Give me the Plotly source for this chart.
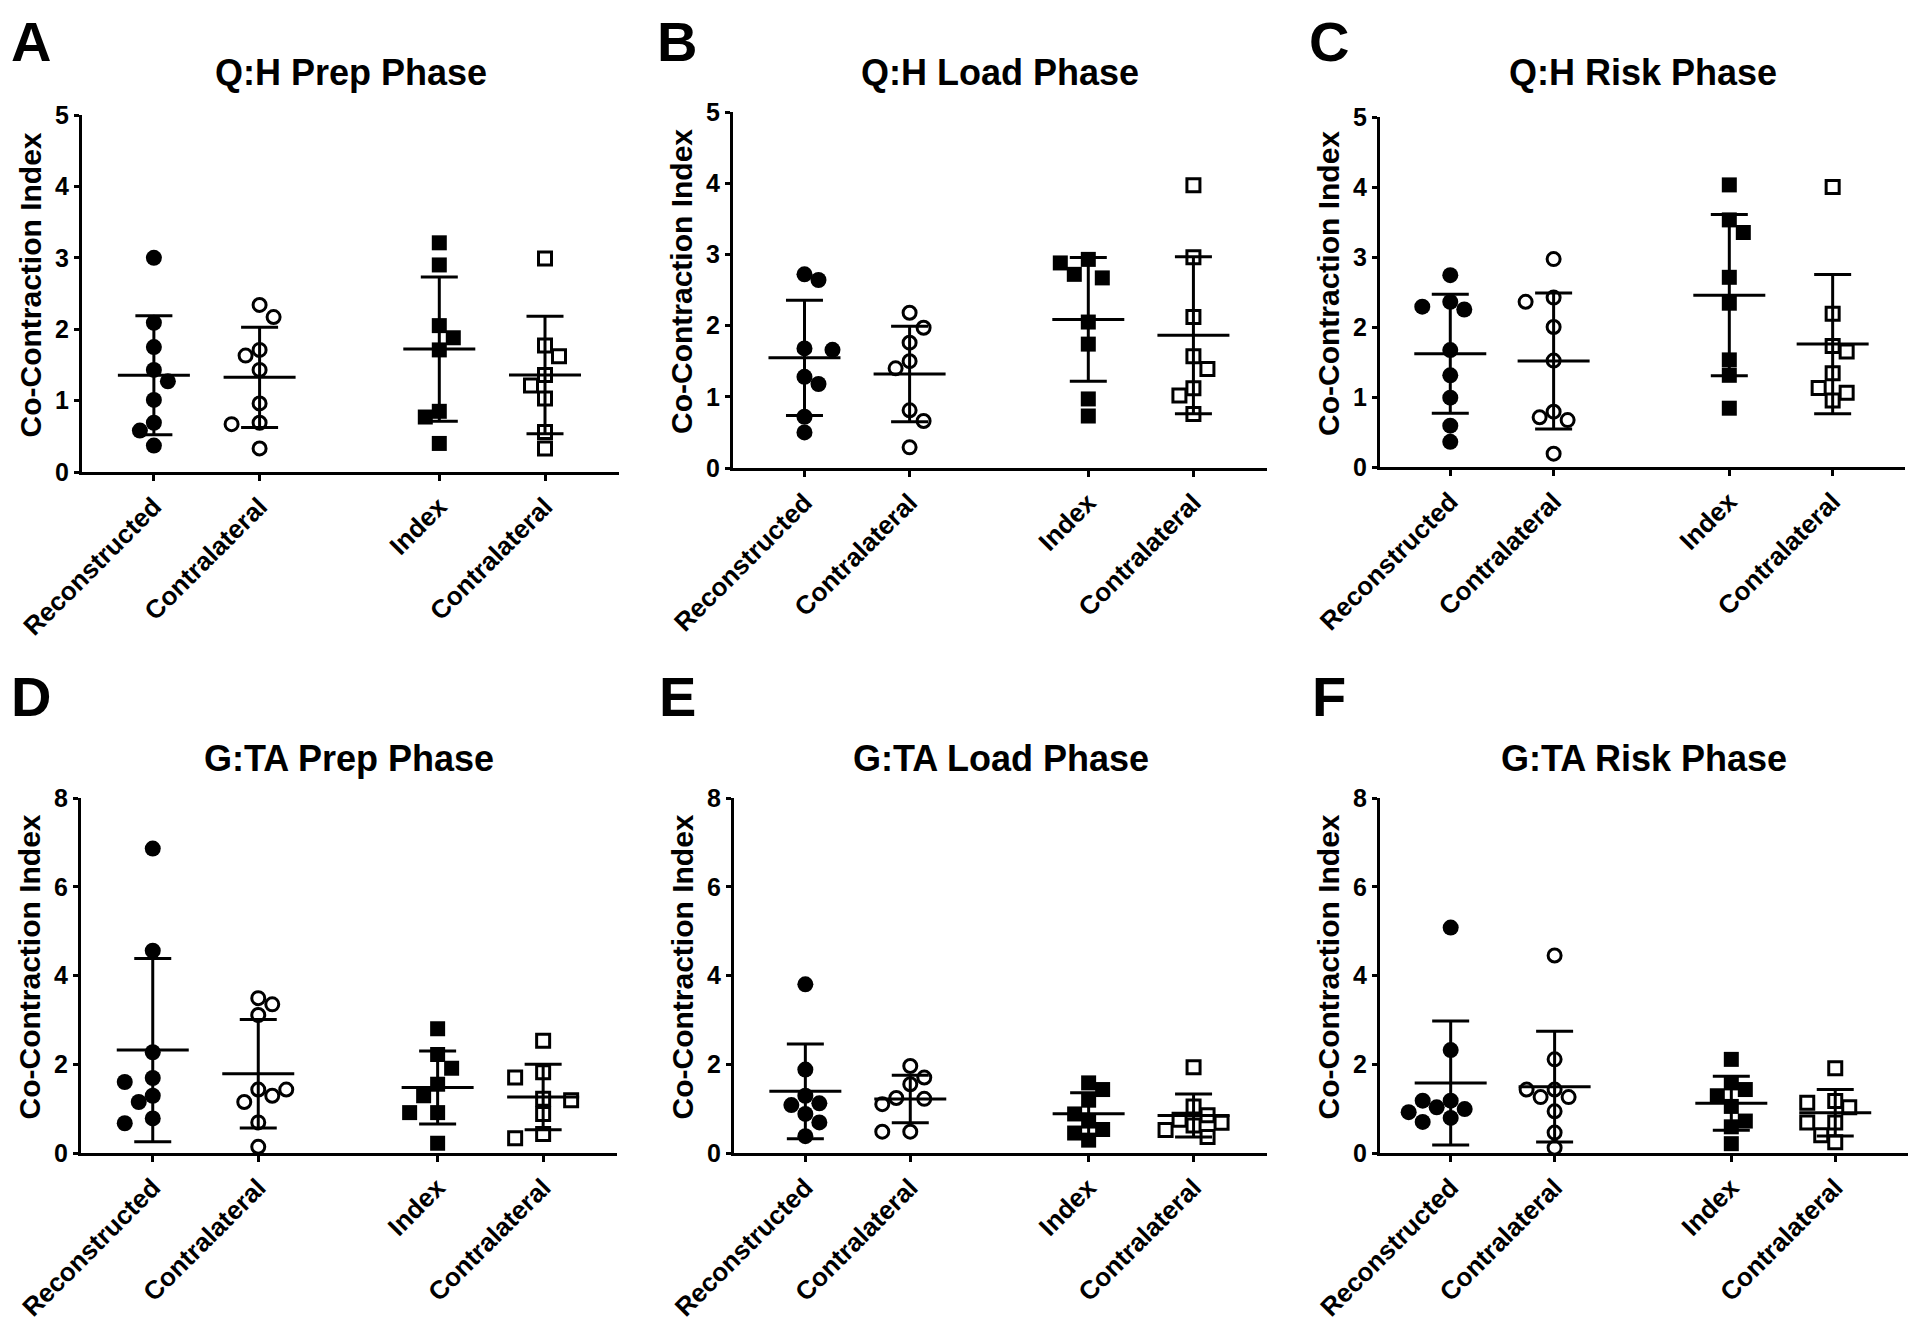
import numpy as np
import plotly.graph_objects as go

# The html body has an 8px default margin; the figure is sized so the page is 1920x1330.
PAGE_W, PAGE_H = 1920, 1330
OFF = 8
W, H = PAGE_W - 2 * OFF, PAGE_H - 2 * OFF
FONT = "Liberation Sans, Arial, sans-serif"

# ---------------- data ----------------
categories = ["Reconstructed", "Contralateral", "Index", "Contralateral"]
panel_letters = ["A", "B", "C", "D", "E", "F"]
panel_titles = ["Q:H Prep Phase", "Q:H Load Phase", "Q:H Risk Phase",
                "G:TA Prep Phase", "G:TA Load Phase", "G:TA Risk Phase"]
y_title = "Co-Contraction Index"
qh_ticks = [0, 1, 2, 3, 4, 5]
gta_ticks = [0, 2, 4, 6, 8]

qh_prep_recon = [3.00, 2.09, 1.75, 1.43, 1.27, 1.01, 0.69, 0.58, 0.37]
qh_prep_contra = [2.34, 2.17, 1.71, 1.63, 1.43, 0.96, 0.69, 0.67, 0.33]
qh_prep_index = [3.21, 2.90, 2.05, 1.88, 1.71, 0.85, 0.77, 0.40]
qh_prep_icontra = [2.99, 1.77, 1.62, 1.36, 1.21, 1.03, 0.56, 0.33]

qh_load_recon = [2.72, 2.64, 1.68, 1.66, 1.28, 1.18, 0.72, 0.50]
qh_load_contra = [2.18, 1.97, 1.76, 1.50, 1.40, 0.81, 0.66, 0.29]
qh_load_index = [2.93, 2.88, 2.72, 2.67, 2.05, 1.74, 0.97, 0.73]
qh_load_icontra = [3.97, 2.96, 2.12, 1.57, 1.39, 1.12, 1.02, 0.76]

qh_risk_recon = [2.74, 2.36, 2.29, 2.25, 1.67, 1.31, 0.99, 0.59, 0.36]
qh_risk_contra = [2.97, 2.42, 2.36, 2.00, 1.52, 0.79, 0.71, 0.67, 0.19]
qh_risk_index = [4.03, 3.53, 3.35, 2.71, 2.34, 1.53, 1.31, 0.84]
qh_risk_icontra = [4.00, 2.19, 1.73, 1.65, 1.34, 1.13, 1.06, 0.95]

gta_prep_recon = [6.86, 4.56, 2.27, 1.69, 1.60, 1.29, 1.15, 0.78, 0.67]
gta_prep_contra = [3.49, 3.35, 3.11, 1.43, 1.43, 1.29, 1.15, 0.69, 0.14]
gta_prep_index = [2.80, 2.22, 1.91, 1.55, 1.29, 0.91, 0.91, 0.22]
gta_prep_icontra = [2.53, 1.82, 1.70, 1.22, 1.19, 0.88, 0.43, 0.33]

gta_load_recon = [3.80, 1.88, 1.29, 1.12, 1.08, 0.88, 0.69, 0.38]
gta_load_contra = [1.96, 1.70, 1.55, 1.24, 1.22, 1.10, 0.48, 0.48]
gta_load_index = [1.58, 1.43, 1.19, 0.88, 0.72, 0.53, 0.45, 0.29]
gta_load_icontra = [1.93, 1.05, 0.85, 0.75, 0.68, 0.62, 0.52, 0.36]

gta_risk_recon = [5.08, 2.32, 1.18, 1.18, 1.03, 0.99, 0.92, 0.79, 0.70]
gta_risk_contra = [4.45, 2.11, 1.43, 1.43, 1.26, 1.26, 0.94, 0.46, 0.12]
gta_risk_index = [2.11, 1.58, 1.43, 1.29, 1.05, 0.72, 0.59, 0.21]
gta_risk_icontra = [1.91, 1.17, 1.13, 1.03, 0.69, 0.69, 0.40, 0.24]

panel_groups = [
    [qh_prep_recon, qh_prep_contra, qh_prep_index, qh_prep_icontra],
    [qh_load_recon, qh_load_contra, qh_load_index, qh_load_icontra],
    [qh_risk_recon, qh_risk_contra, qh_risk_index, qh_risk_icontra],
    [gta_prep_recon, gta_prep_contra, gta_prep_index, gta_prep_icontra],
    [gta_load_recon, gta_load_contra, gta_load_index, gta_load_icontra],
    [gta_risk_recon, gta_risk_contra, gta_risk_index, gta_risk_icontra],
]

# ---------------- layout (page pixels) ----------------
boxes = [  # x0, x1, ytop, ybottom
    (82, 619, 115, 472),
    (733, 1267, 112, 468),
    (1380, 1905, 117, 467),
    (81, 617, 798, 1153),
    (734, 1267, 798, 1153),
    (1380, 1908, 798, 1153),
]
title_y = [72, 72, 72, 758, 758, 758]
letter_x = [31, 677, 1329, 31, 677, 1329]
letter_row2_y = 696
xpos = [0.0, 1.0, 2.7, 3.7]
xrange_ = [-0.68, 4.4]
symbols = ["circle", "circle-open", "square", "square-open"]
msize = [16, 13, 15, 13]


def px2x(px):
    return (px - OFF) / W


def px2y(py):
    return 1 - (py - OFF) / H


def swarm(vals, ppu_y, ppu_x, diam=15.0, step=14.0):
    """Greedy symmetric beeswarm: returns horizontal offsets in x-axis units."""
    n = len(vals)
    order = sorted(range(n), key=lambda i: -vals[i])
    cands = [0.0]
    for j in range(1, 10):
        cands += [j * step, -j * step] if j % 2 else [-j * step, j * step]
    placed = []
    off = [0.0] * n
    flip = 1
    for i in order:
        y = vals[i] * ppu_y
        for c in cands:
            c = c * flip
            if all((c - px) ** 2 + (y - py) ** 2 >= diam ** 2 for px, py in placed):
                off[i] = c
                break
        if off[i] != 0:
            flip = -flip
        placed.append((off[i], y))
    return [o / ppu_x for o in off]


fig = go.Figure()
layout = dict(width=W, height=H, margin=dict(l=0, r=0, t=0, b=0, autoexpand=False),
              paper_bgcolor="white", plot_bgcolor="white", showlegend=False,
              font=dict(family=FONT, color="black"))
annotations = []

for p in range(6):
    x0, x1, yt, yb = boxes[p]
    ax = "" if p == 0 else str(p + 1)
    xa, ya = "x" + ax, "y" + ax
    yticks = qh_ticks if p < 3 else gta_ticks
    ymax = yticks[-1]
    ppu_y = (yb - yt) / ymax
    ppu_x = (x1 - x0) / (xrange_[1] - xrange_[0])

    for g, vals in enumerate(panel_groups[p]):
        offs = swarm(vals, ppu_y, ppu_x)
        sym = symbols[g]
        is_open = sym.endswith("open")
        fig.add_trace(go.Scatter(
            x=[xpos[g] + o for o in offs], y=vals, mode="markers",
            xaxis=xa, yaxis=ya, cliponaxis=False,
            marker=dict(symbol=sym, size=msize[g], color="black",
                        line=dict(width=3 if is_open else 0, color="black")),
            hoverinfo="y"))
        m = float(np.mean(vals))
        sd = float(np.std(vals, ddof=1))
        half = 36 / ppu_x
        cap = 18.5 / ppu_x
        c = xpos[g]
        fig.add_trace(go.Scatter(
            x=[c - half, c + half, None, c, c, None, c - cap, c + cap, None, c - cap, c + cap],
            y=[m, m, None, m - sd, m + sd, None, m + sd, m + sd, None, m - sd, m - sd],
            mode="lines", xaxis=xa, yaxis=ya, cliponaxis=False,
            line=dict(color="black", width=3), hoverinfo="skip"))

    layout["xaxis" + ax] = dict(
        domain=[px2x(x0), px2x(x1)], anchor=ya, range=xrange_, automargin=False,
        tickvals=xpos, ticktext=categories, tickangle=-45,
        tickfont=dict(family=FONT, size=26, color="black", weight="bold"),
        showline=True, linecolor="black", linewidth=3, mirror=False,
        ticks="outside", ticklen=6, tickwidth=3, tickcolor="black",
        showgrid=False, zeroline=False, fixedrange=True)
    layout["yaxis" + ax] = dict(
        domain=[px2y(yb), px2y(yt)], anchor=xa, range=[0, ymax], automargin=False,
        tickvals=yticks, ticktext=[str(t) for t in yticks],
        tickfont=dict(family=FONT, size=25, color="black", weight="bold"),
        showline=True, linecolor="black", linewidth=3,
        ticks="outside", ticklen=5, tickwidth=3, tickcolor="black",
        showgrid=False, zeroline=False, fixedrange=True)

    annotations.append(dict(
        text=panel_titles[p], x=px2x((x0 + x1) / 2), y=px2y(title_y[p]),
        xref="paper", yref="paper", xanchor="center", yanchor="middle",
        showarrow=False, font=dict(family=FONT, size=36, color="black", weight="bold")))
    annotations.append(dict(
        text=y_title, x=px2x(x0 - 52), y=px2y((yt + yb) / 2 - 8),
        xref="paper", yref="paper", xanchor="center", yanchor="middle",
        textangle=-90, showarrow=False,
        font=dict(family=FONT, size=30, color="black", weight="bold")))
    if p < 3:
        letter = dict(y=1.0, yanchor="top")
    else:
        letter = dict(y=px2y(letter_row2_y), yanchor="middle")
    annotations.append(dict(
        text=panel_letters[p], x=px2x(letter_x[p]), xref="paper", yref="paper",
        xanchor="center", showarrow=False,
        font=dict(family=FONT, size=56, color="black", weight="bold"), **letter))

layout["annotations"] = annotations
fig.update_layout(**layout)
fig.write_html("out.html")
